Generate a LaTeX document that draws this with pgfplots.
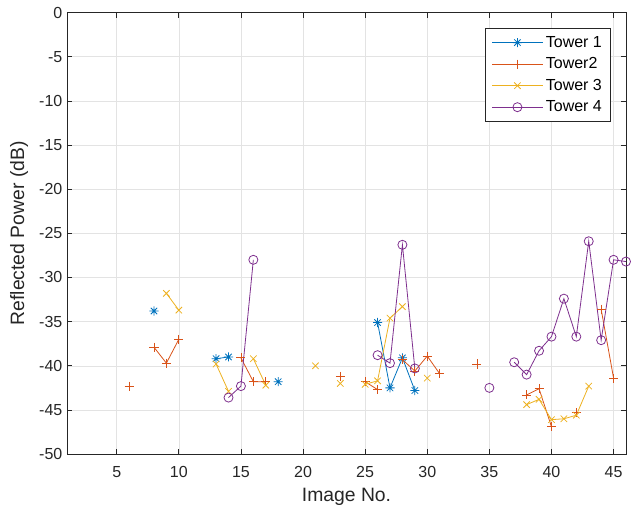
\documentclass[border=0pt]{standalone}
\usepackage{fontspec}
\setmainfont{Liberation Sans}
\usepackage{pgfplots}
\pgfplotsset{compat=1.18}
\definecolor{mblue}{rgb}{0,0.447,0.741}
\definecolor{morange}{rgb}{0.85,0.325,0.098}
\definecolor{myellow}{rgb}{0.929,0.694,0.125}
\definecolor{mpurple}{rgb}{0.494,0.184,0.556}
\definecolor{axgray}{rgb}{0.15,0.15,0.15}
% MATLAB-style 8-arm asterisk
\pgfdeclareplotmark{ast8}{%
  \pgfpathmoveto{\pgfqpoint{\pgfplotmarksize}{0pt}}\pgfpathlineto{\pgfqpoint{-\pgfplotmarksize}{0pt}}%
  \pgfpathmoveto{\pgfqpoint{0pt}{\pgfplotmarksize}}\pgfpathlineto{\pgfqpoint{0pt}{-\pgfplotmarksize}}%
  \pgfpathmoveto{\pgfqpoint{.707\pgfplotmarksize}{.707\pgfplotmarksize}}\pgfpathlineto{\pgfqpoint{-.707\pgfplotmarksize}{-.707\pgfplotmarksize}}%
  \pgfpathmoveto{\pgfqpoint{-.707\pgfplotmarksize}{.707\pgfplotmarksize}}\pgfpathlineto{\pgfqpoint{.707\pgfplotmarksize}{-.707\pgfplotmarksize}}%
  \pgfusepathqstroke}
\begin{document}
\begin{tikzpicture}
\begin{axis}[
  scale only axis,
  width=419pt, height=331pt,
  xmin=1, xmax=46, ymin=-50, ymax=0,
  xtick={5,10,...,45}, ytick={-50,-45,...,0},
  grid=major,
  major grid style={gray!22, line width=0.4pt},
  axis line style={axgray, line width=0.5pt},
  tick style={axgray, line width=0.5pt},
  tick align=inside, tick pos=both,
  major tick length=4pt,
  ticklabel style={font=\fontsize{12}{14}\selectfont, text=axgray},
  xticklabel style={yshift=-6pt},
  /pgf/number format/assume math mode=true,
  xlabel={Image No.}, ylabel={Reflected Power (dB)},
  label style={font=\fontsize{14.5}{17}\selectfont, text=axgray},
  xlabel style={at={(axis description cs:0.5,0)}, anchor=center, yshift=-32pt},
  ylabel style={at={(axis description cs:0,0.5)}, anchor=center, yshift=36pt},
  unbounded coords=jump,
  clip=false,
  every axis plot/.append style={line width=0.6pt, mark size=3.4pt, mark options={solid, line width=0.6pt}},
  legend style={at={(0.973,0.964)}, anchor=north east, draw=axgray, line width=0.5pt,
    font=\fontsize{12}{14}\selectfont, row sep=2.3pt, inner xsep=4.5pt, inner ysep=3.5pt},
  legend cell align=left,
  legend image code/.code={\draw[mark repeat=2,mark phase=2] plot coordinates {(0pt,0pt)(19pt,0pt)(38pt,0pt)};},
]
\addplot[color=mblue, mark=ast8] coordinates {
  (8,-33.8) (9,nan) (13,-39.2) (14,-39.0) (15,nan) (18,-41.8) (19,nan)
  (26,-35.1) (27,-42.5) (28,-39.1) (29,-42.8)
};
\addlegendentry{Tower 1}
\addplot[color=morange, mark=+] coordinates {
  (6,-42.3) (7,nan) (8,-37.9) (9,-39.7) (10,-37.0) (11,nan)
  (15,-39.1) (16,-41.8) (17,-41.8) (18,nan) (23,-41.2) (24,nan)
  (25,-41.8) (26,-42.7) (27,nan) (28,-39.3) (29,-40.6) (30,-38.9) (31,-40.9) (32,nan)
  (34,-39.8) (35,nan) (38,-43.3) (39,-42.6) (40,-46.9) (41,nan) (42,-45.3) (43,nan)
  (44,-33.6) (45,-41.4)
};
\addlegendentry{Tower2}
\addplot[color=myellow, mark=x] coordinates {
  (9,-31.8) (10,-33.7) (11,nan) (13,-39.8) (14,-42.9) (15,nan) (16,-39.2) (17,-42.2) (18,nan)
  (21,-40.0) (22,nan) (23,-42.0) (24,nan) (25,-42.1) (26,-41.7) (27,-34.6) (28,-33.3) (29,nan)
  (30,-41.4) (31,nan) (38,-44.4) (39,-43.8) (40,-46.1) (41,-46.0) (42,-45.6) (43,-42.3)
};
\addlegendentry{Tower 3}
\addplot[color=mpurple, mark=o] coordinates {
  (14,-43.6) (15,-42.3) (16,-28.0) (17,nan) (26,-38.8) (27,-39.7) (28,-26.3) (29,-40.3) (30,nan)
  (35,-42.5) (36,nan) (37,-39.6) (38,-41.0) (39,-38.3) (40,-36.7) (41,-32.4) (42,-36.7)
  (43,-25.9) (44,-37.1) (45,-28.0) (46,-28.2)
};
\addlegendentry{Tower 4}
\end{axis}
\path ([xshift=-50.25pt,yshift=-42.75pt]current axis.south west) rectangle ([xshift=4.5pt,yshift=9.4pt]current axis.north east);
\end{tikzpicture}
\end{document}
